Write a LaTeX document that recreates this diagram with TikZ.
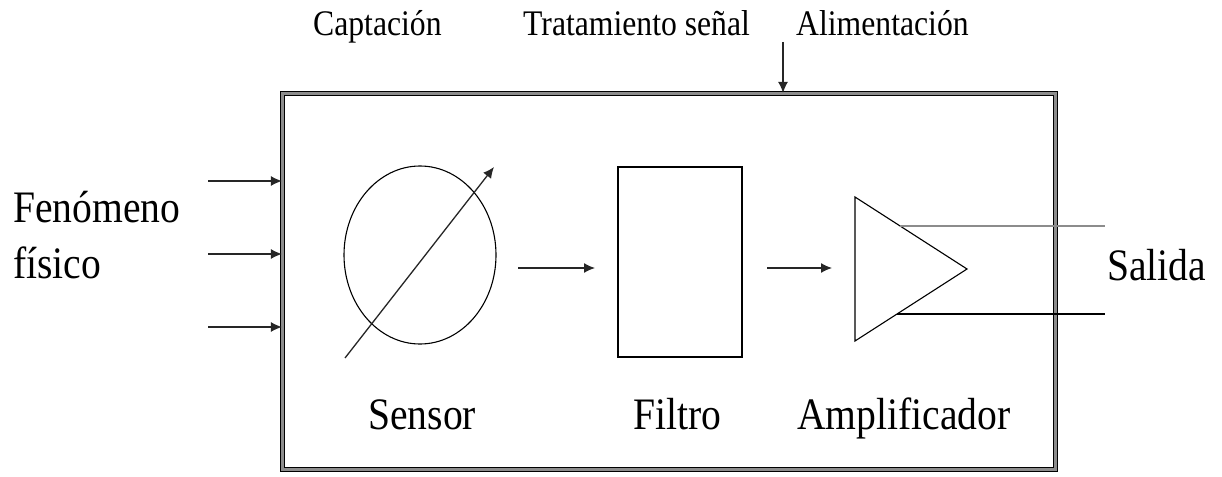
\documentclass[tikz,border=0pt]{standalone}
\usepackage{fontspec}
\setmainfont{Liberation Serif}[FakeStretch=0.88]
\usetikzlibrary{arrows.meta,shapes.geometric}
\begin{document}
\begin{tikzpicture}[x=1pt,y=-1pt,
  biglbl/.style={anchor=base west, inner sep=0pt, font=\fontsize{45}{52}\selectfont},
  toplbl/.style={anchor=base west, inner sep=0pt, font=\fontsize{36}{42}\selectfont},
  arr/.style={draw=black!85, line width=1.3pt, -{Latex[length=11pt,width=10pt]}},
  part/.style={draw, line width=1.1pt, inner sep=0pt},
  outbox/.style={draw=black, line width=1.2pt, double=black!45, double distance=2.5pt, inner sep=0pt}]
\useasboundingbox (0,0) rectangle (1222,476);
% labels on top
\node[toplbl] (capt) at (313,36) {Captación};
\node[toplbl] (trat) at (523,36) {Tratamiento señal};
\node[toplbl] (alim) at (796,36) {Alimentación};
% main box
\node[outbox, minimum width=773pt, minimum height=376pt] (box) at (669,281.5) {};
% power arrow
\coordinate (pw) at (783,42);
\draw[arr] (pw) -- (pw |- box.north);
% inputs
\node[biglbl] (fen1) at (13,222) {Fenómeno};
\node[biglbl] (fen2) at (13,278) {físico};
\coordinate (in1) at (208,181);
\coordinate (in2) at (208,254);
\coordinate (in3) at (208,327);
\draw[arr] (in1) -- (in1 -| box.west);
\draw[arr] (in2) -- (in2 -| box.west);
\draw[arr] (in3) -- (in3 -| box.west);
% sensor
\node[part, ellipse, minimum width=152pt, minimum height=178pt] (sens) at (420,255) {};
\coordinate (d1) at (345,358);
\coordinate (d2) at (494,167);
\draw[arr] (d1) -- (d2);
% arrow sensor -> filter
\coordinate (a1s) at (518,268);
\coordinate (a1e) at (595,268);
\draw[arr] (a1s) -- (a1e);
% filter
\node[part, minimum width=124pt, minimum height=190pt] (filt) at (680,262) {};
% arrow filter -> amplifier
\coordinate (a2s) at (767,268);
\coordinate (a2e) at (832,268);
\draw[arr] (a2s) -- (a2e);
% amplifier triangle
\coordinate (t1) at (855,197);
\coordinate (t2) at (967,269);
\coordinate (t3) at (855,341);
\draw[line width=1.1pt, line join=miter] (t1) -- (t2) -- (t3) -- cycle;
% outputs
\coordinate (o1s) at (900,226);
\coordinate (o1e) at (1105,226);
\coordinate (o2s) at (897,314);
\coordinate (o2e) at (1105,314);
\draw[black!45, line width=1.6pt] (o1s) -- (o1e);
\draw[black, line width=1.2pt] (o2s) -- (o2e);
\node[biglbl] (sal) at (1107,280) {Salida};
% bottom labels
\node[biglbl] (lsens) at (368,429) {Sensor};
\node[biglbl] (lfilt) at (633,429) {Filtro};
\node[biglbl] (lamp) at (797,429) {Amplificador};
\end{tikzpicture}
\end{document}
